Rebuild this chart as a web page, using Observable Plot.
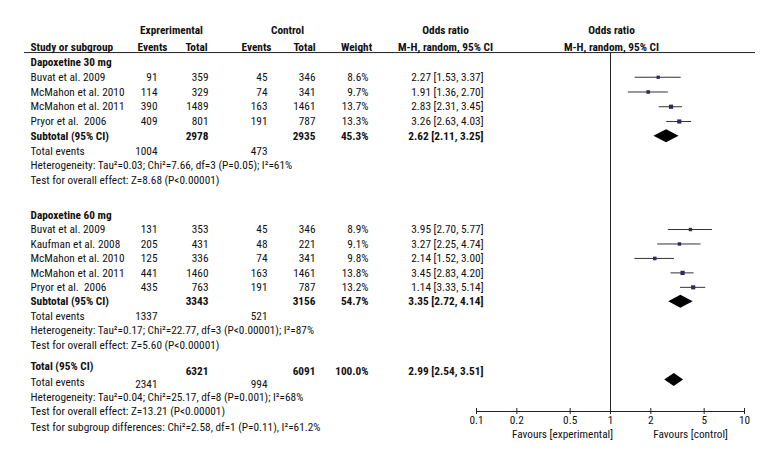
<!DOCTYPE html>
<html><head><meta charset="utf-8">
<script src="https://cdn.jsdelivr.net/npm/d3@7"></script>
<script src="https://cdn.jsdelivr.net/npm/@observablehq/plot@0.6"></script>
<style>
body{margin:0;background:#fff;}
#chart svg text{white-space:pre;}
</style></head><body><div id="chart"></div>
<script>
// ---------- data ----------
const subgroupNames = ["Dapoxetine 30 mg", "Dapoxetine 60 mg"];

const studies30   = ["Buvat et al. 2009", "McMahon et al. 2010", "McMahon et al. 2011", "Pryor et al.  2006"];
const expEvents30 = [91, 114, 390, 409];
const expTotal30  = [359, 329, 1489, 801];
const ctlEvents30 = [45, 74, 163, 191];
const ctlTotal30  = [346, 341, 1461, 787];
const weight30    = [8.6, 9.7, 13.7, 13.3];
const orPrinted30 = [2.27, 1.91, 2.83, 3.26];
const or30        = [2.27, 1.91, 2.83, 3.26];
const lo30        = [1.53, 1.36, 2.31, 2.63];
const hi30        = [3.37, 2.70, 3.45, 4.03];

const studies60   = ["Buvat et al. 2009", "Kaufman et al. 2008", "McMahon et al. 2010", "McMahon et al. 2011", "Pryor et al.  2006"];
const expEvents60 = [131, 205, 125, 441, 435];
const expTotal60  = [353, 431, 336, 1460, 763];
const ctlEvents60 = [45, 48, 74, 163, 191];
const ctlTotal60  = [346, 221, 341, 1461, 787];
const weight60    = [8.9, 9.1, 9.8, 13.8, 13.2];
const orPrinted60 = [3.95, 3.27, 2.14, 3.45, 1.14];   // as printed in the table
const or60        = [3.95, 3.27, 2.14, 3.45, 4.14];   // as plotted
const lo60        = [2.70, 2.25, 1.52, 2.83, 3.33];
const hi60        = [5.77, 4.74, 3.00, 4.20, 5.14];

const subExpTotal  = [2978, 3343];
const subCtlTotal  = [2935, 3156];
const subWeight    = [45.3, 54.7];
const subOr        = [2.62, 3.35];
const subLo        = [2.11, 2.72];
const subHi        = [3.25, 4.14];
const subExpEvents = [1004, 1337];
const subCtlEvents = [473, 521];
const subHeterogeneity = [
  "Heterogeneity: Tau²=0.03; Chi²=7.66, df=3 (P=0.05); I²=61%",
  "Heterogeneity: Tau²=0.17; Chi²=22.77, df=3 (P<0.00001); I²=87%"
];
const subOverall = [
  "Test for overall effect: Z=8.68 (P<0.00001)",
  "Test for overall effect: Z=5.60 (P<0.00001)"
];

const totalExpTotal = 6321, totalCtlTotal = 6091, totalWeight = 100.0;
const totalOr = 2.99, totalLo = 2.54, totalHi = 3.51;
const totalExpEvents = 2341, totalCtlEvents = 994;
const totalHeterogeneity = "Heterogeneity: Tau²=0.04; Chi²=25.17, df=8 (P=0.001); I²=68%";
const totalOverall = "Test for overall effect: Z=13.21 (P<0.00001)";
const subgroupDiff = "Test for subgroup differences: Chi²=2.58, df=1 (P=0.11), I²=61.2%";

const xTicks = [0.1, 0.2, 0.5, 1, 2, 5, 10];
const favours = ["Favours [experimental]", "Favours [control]"];

// ---------- choose a condensed font that is installed ----------
const ctx = document.createElement("canvas").getContext("2d");
function width(font, str, stretch) {
  ctx.font = font;
  try { ctx.fontStretch = stretch || "normal"; } catch (e) {}
  return ctx.measureText(str).width;
}
function installed(fam) {
  const s = "abcdefghijkXYZ0123456789";
  return ["monospace", "serif"].some(fb => width(`40px "${fam}", ${fb}`, s) !== width(`40px ${fb}`, s));
}
let FONT = "DejaVu Sans Condensed", STRETCH = "normal";
const candidates = ["Liberation Sans Narrow", "Noto Sans Condensed", "Roboto Condensed", "Open Sans Condensed"];
const found = candidates.find(installed);
if (found) FONT = found;
else if (installed("Noto Sans")) {
  const probe = "Heterogeneity: Tau²=0.03";
  if (width('40px "Noto Sans"', probe, "condensed") < 0.92 * width('40px "Noto Sans"', probe, "normal")) {
    FONT = "Noto Sans"; STRETCH = "condensed";
  }
}
const REF_W = 262; // pixel width of the first heterogeneity line (slightly loosened for legibility)
let FS = 11 * REF_W / width(`11px "${FONT}", sans-serif`, subHeterogeneity[0], STRETCH);
FS = Math.max(9, Math.min(12.5, FS));

// ---------- build table for the library ----------
const f2 = v => v.toFixed(2);
const ciText = (o, l, h) => `${f2(o)} [${f2(l)}, ${f2(h)}]`;
const cells = [];
const studyPts = [];
const diamonds = [];
const H = 0.45;
function addDiamond(id, row, o, l, h) {
  diamonds.push({id, x: l, y1: row, y2: row}, {id, x: o, y1: row - H, y2: row + H}, {id, x: h, y1: row, y2: row});
}
const sections = [
  {studies: studies30, ee: expEvents30, et: expTotal30, ce: ctlEvents30, ct: ctlTotal30, w: weight30, op: orPrinted30, o: or30, l: lo30, h: hi30, start: 0, step: 1.01},
  {studies: studies60, ee: expEvents60, et: expTotal60, ce: ctlEvents60, ct: ctlTotal60, w: weight60, op: orPrinted60, o: or60, l: lo60, h: hi60, start: 10.45, step: 0.99}
];
sections.forEach((s, g) => {
  const r = i => s.start + i * s.step;
  cells.push({row: r(0), col: "label", text: subgroupNames[g], bold: true});
  s.studies.forEach((name, i) => {
    const row = r(i + 1);
    cells.push({row, col: "label", text: name});
    cells.push({row, col: "ee", text: String(s.ee[i])});
    cells.push({row, col: "et", text: String(s.et[i])});
    cells.push({row, col: "ce", text: String(s.ce[i])});
    cells.push({row, col: "ct", text: String(s.ct[i])});
    cells.push({row, col: "w", text: s.w[i].toFixed(1) + "%"});
    cells.push({row, col: "or", text: ciText(s.op[i], s.l[i], s.h[i])});
    studyPts.push({row, or: s.o[i], lo: s.l[i], hi: s.h[i], weight: s.w[i]});
  });
  const n = s.studies.length;
  const rs = r(n + 1);
  cells.push({row: rs, col: "label", text: "Subtotal (95% CI)", bold: true});
  cells.push({row: rs, col: "et", text: String(subExpTotal[g]), bold: true});
  cells.push({row: rs, col: "ct", text: String(subCtlTotal[g]), bold: true});
  cells.push({row: rs, col: "w", text: subWeight[g].toFixed(1) + "%", bold: true});
  cells.push({row: rs, col: "or", text: ciText(subOr[g], subLo[g], subHi[g]), bold: true});
  addDiamond("s" + g, rs, subOr[g], subLo[g], subHi[g]);
  const re = r(n + 2);
  cells.push({row: re, col: "label", text: "Total events"});
  cells.push({row: re, col: "ee", text: String(subExpEvents[g])});
  cells.push({row: re, col: "ce", text: String(subCtlEvents[g])});
  cells.push({row: r(n + 3), col: "label", text: subHeterogeneity[g]});
  cells.push({row: r(n + 4), col: "label", text: subOverall[g]});
});
cells.push({row: 20.82, col: "label", text: "Total (95% CI)", bold: true});
cells.push({row: 21.15, col: "et", text: String(totalExpTotal), bold: true});
cells.push({row: 21.15, col: "ct", text: String(totalCtlTotal), bold: true});
cells.push({row: 21.15, col: "w", text: totalWeight.toFixed(1) + "%", bold: true});
cells.push({row: 21.15, col: "or", text: ciText(totalOr, totalLo, totalHi), bold: true});
addDiamond("t", 21.75, totalOr, totalLo, totalHi);
cells.push({row: 21.9, col: "label", text: "Total events"});
cells.push({row: 22.05, col: "ee", text: String(totalExpEvents)});
cells.push({row: 22.05, col: "ce", text: String(totalCtlEvents)});
cells.push({row: 22.95, col: "label", text: totalHeterogeneity});
cells.push({row: 23.9, col: "label", text: totalOverall});
cells.push({row: 25.0, col: "label", text: subgroupDiff});

const header = [
  {row: -2.2, col: "hExp", text: "Exprerimental"},
  {row: -2.2, col: "hCtl", text: "Control"},
  {row: -2.2, col: "hOr", text: "Odds ratio"},
  {row: -2.2, col: "hPlot", text: "Odds ratio"},
  {row: -1.03, col: "label", text: "Study or subgroup"},
  {row: -1.03, col: "hEE", text: "Events"},
  {row: -1.03, col: "hET", text: "Total"},
  {row: -1.03, col: "hCE", text: "Events"},
  {row: -1.03, col: "hCT", text: "Total"},
  {row: -1.03, col: "hW", text: "Weight"},
  {row: -1.03, col: "hOr", text: "M-H, random, 95% CI"},
  {row: -1.03, col: "hPlot", text: "M-H, random, 95% CI"}
].map(d => ({...d, bold: true}));

// column placement (pixel offsets from the plot's left edge)
const cols = {
  label: {dx: -446, anchor: "start"},
  ee: {dx: -319, anchor: "end"},
  et: {dx: -268, anchor: "end"},
  ce: {dx: -209, anchor: "end"},
  ct: {dx: -161, anchor: "end"},
  w:  {dx: -108, anchor: "end"},
  or: {dx: 7, anchor: "end"},
  hExp: {dx: -305, anchor: "middle"},
  hCtl: {dx: -189, anchor: "middle"},
  hOr:  {dx: -31, anchor: "middle"},
  hPlot: {dx: 135, anchor: "middle"},
  hEE: {dx: -324, anchor: "middle"},
  hET: {dx: -280, anchor: "middle"},
  hCE: {dx: -220, anchor: "middle"},
  hCT: {dx: -172, anchor: "middle"},
  hW:  {dx: -120, anchor: "middle"}
};
const allCells = header.concat(cells);
const textMarks = [];
for (const [key, c] of Object.entries(cols)) {
  for (const bold of [false, true]) {
    const data = allCells.filter(d => d.col === key && !!d.bold === bold);
    if (!data.length) continue;
    textMarks.push(Plot.text(data, {
      y: "row", text: "text", frameAnchor: "left", dx: c.dx, textAnchor: c.anchor,
      fontWeight: bold ? "bold" : "normal", fontSize: FS, fill: "#111"
    }));
  }
}

const chart = Plot.plot({
  width: 780, height: 468,
  marginLeft: 476, marginRight: 36, marginTop: 52, marginBottom: 57,
  x: {type: "log", domain: [0.1, 10], range: [476, 744], axis: null},
  y: {domain: [0, 25], range: [62, 427], axis: null},
  r: {type: "sqrt", domain: [0, 14], range: [0, 2.4]},
  style: {background: "#fff", color: "#111", fontSize: FS + "px", fontFamily: `"${FONT}", "DejaVu Sans Condensed", sans-serif`, fontStretch: STRETCH},
  marks: [
    Plot.ruleY([-0.68], {insetLeft: -452, insetRight: -11, stroke: "#222", strokeWidth: 1}),
    Plot.ruleX([1], {stroke: "#222", strokeWidth: 1}),
    Plot.frame({anchor: "bottom", stroke: "#222", strokeWidth: 1}),
    Plot.axisX(xTicks, {anchor: "bottom", tickSize: 6, dy: -3, tickFormat: () => "", stroke: "#222"}),
    Plot.text(xTicks, {x: d => d, text: d => String(d), frameAnchor: "bottom", dy: 12, fontSize: FS, fill: "#111"}),
    Plot.text([favours[0]], {text: d => d, frameAnchor: "bottom", dx: -48, dy: 26, fontSize: FS, fill: "#111"}),
    Plot.text([favours[1]], {text: d => d, frameAnchor: "bottom", dx: 80, dy: 26, fontSize: FS, fill: "#111"}),
    Plot.ruleY(studyPts, {y: "row", x1: "lo", x2: "hi", stroke: "#333", strokeWidth: 1}),
    Plot.dot(studyPts, {x: "or", y: "row", r: "weight", symbol: "square", fill: "#2b2b5e", stroke: "none"}),
    Plot.areaY(diamonds, {x: "x", y1: "y1", y2: "y2", z: "id", fill: "#000"}),
    ...textMarks
  ]
});
document.getElementById("chart").appendChild(chart);
</script>
</body></html>
